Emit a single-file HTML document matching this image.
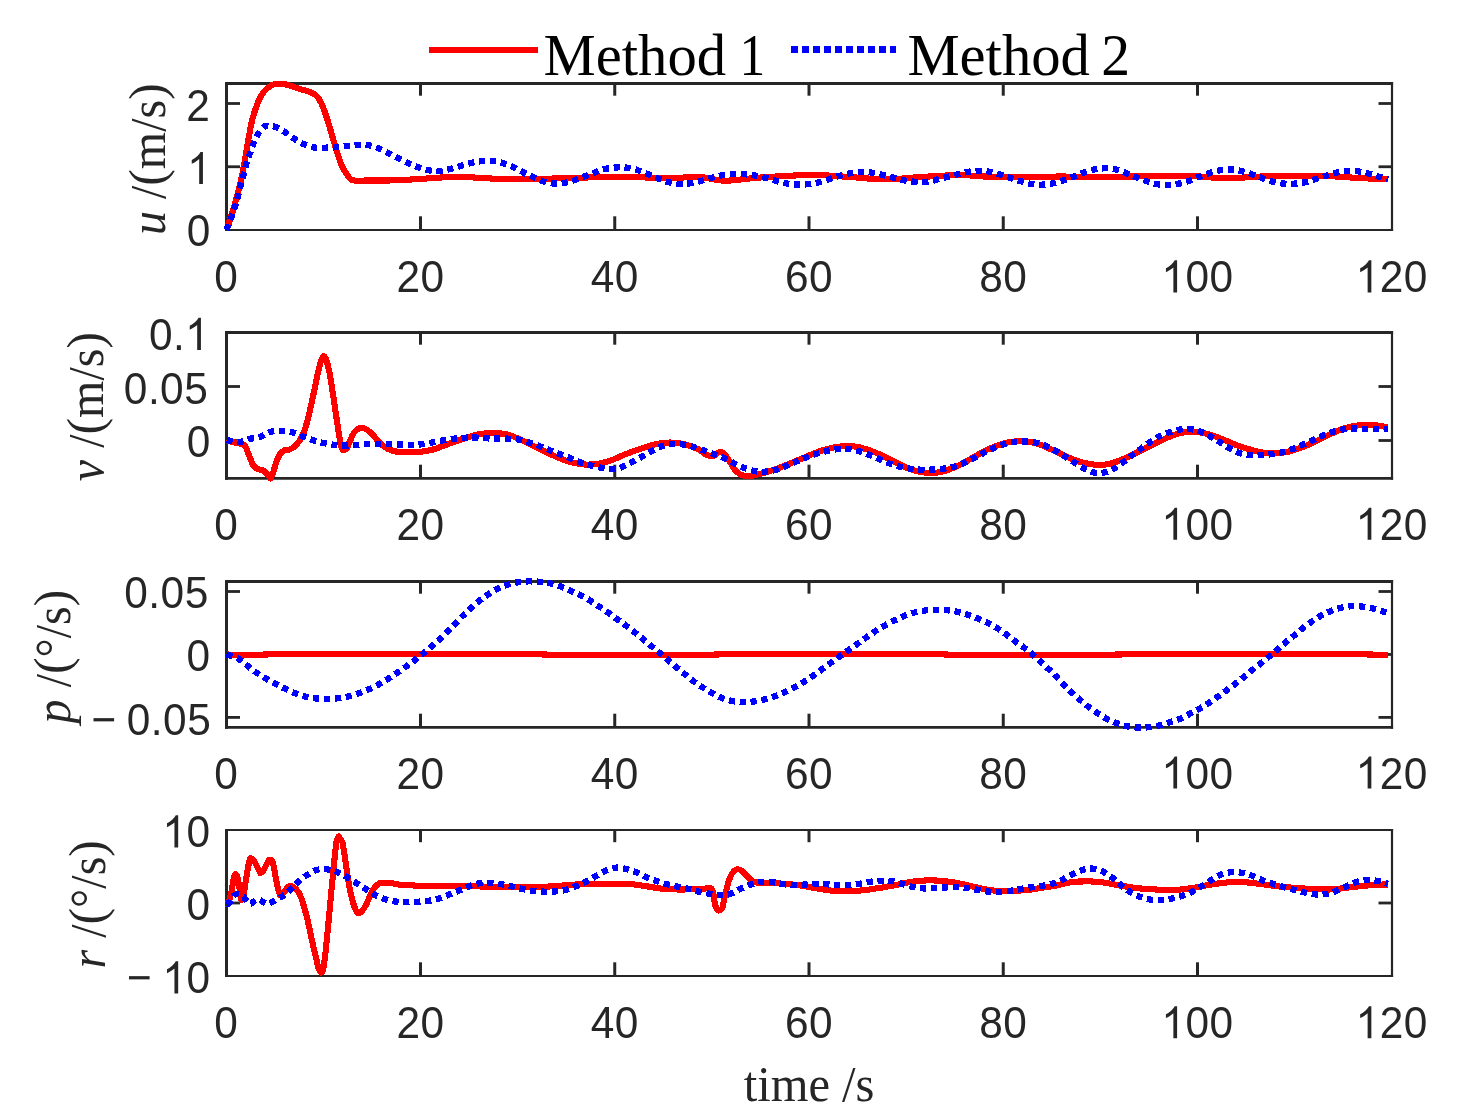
<!DOCTYPE html>
<html><head><meta charset="utf-8"><title>Figure</title>
<style>html,body{margin:0;padding:0;background:#fff;}body{width:1457px;height:1119px;overflow:hidden;}svg{display:block;will-change:transform;}text{font-family:"Liberation Sans",sans-serif;font-kerning:none;}.tk{font-family:"Liberation Sans",sans-serif;font-size:45.2px;fill:#262626;}.yl{font-family:"Liberation Serif",serif;font-size:50px;fill:#262626;}.xl{font-family:"Liberation Serif",serif;font-size:50px;fill:#262626;}.lg{font-family:"Liberation Serif",serif;font-size:60px;fill:#000;}.r{shape-rendering:crispEdges;fill:none;stroke:#ff0000;stroke-width:6.1;stroke-linejoin:round;stroke-linecap:butt;}.b{shape-rendering:crispEdges;fill:none;stroke:#0000ff;stroke-width:6.3;stroke-dasharray:6.2 4.7;stroke-linejoin:round;stroke-linecap:butt;}.ax{stroke:#262626;fill:none;}.one{fill:#262626;}</style></head><body>
<svg width="1457" height="1119" viewBox="0 0 1457 1119">
<rect x="0" y="0" width="1457" height="1119" fill="#ffffff"/>
<line x1="429" y1="50" x2="538.4" y2="50" stroke="#ff0000" stroke-width="6" shape-rendering="crispEdges"/>
<line x1="790.9" y1="49.5" x2="896.2" y2="49.5" stroke="#0000ff" stroke-width="7" stroke-dasharray="6.6 4.4" shape-rendering="crispEdges"/>
<text class="lg" transform="translate(543.6 75.4) scale(0.978 1)">Method</text>
<text class="lg" transform="translate(739.6 75.4) scale(0.857 1)">1</text>
<text class="lg" transform="translate(907.4 75.4) scale(0.978 1)">Method</text>
<text class="lg" transform="translate(1101.2 75.4) scale(0.961 1)">2</text>
<g class="ax">
<line x1="226.50" y1="82.00" x2="226.50" y2="231.00" stroke-width="3"/>
<line x1="1392.00" y1="82.00" x2="1392.00" y2="231.00" stroke-width="2.2"/>
<line x1="225.00" y1="83.50" x2="1393.10" y2="83.50" stroke-width="3"/>
<line x1="225.00" y1="230.00" x2="1393.10" y2="230.00" stroke-width="2"/>
<line x1="420.50" y1="230.00" x2="420.50" y2="216.30" stroke-width="3"/>
<line x1="420.50" y1="83.50" x2="420.50" y2="95.70" stroke-width="3"/>
<line x1="614.75" y1="230.00" x2="614.75" y2="216.30" stroke-width="3"/>
<line x1="614.75" y1="83.50" x2="614.75" y2="95.70" stroke-width="3"/>
<line x1="809.00" y1="230.00" x2="809.00" y2="216.30" stroke-width="3"/>
<line x1="809.00" y1="83.50" x2="809.00" y2="95.70" stroke-width="3"/>
<line x1="1003.25" y1="230.00" x2="1003.25" y2="216.30" stroke-width="3"/>
<line x1="1003.25" y1="83.50" x2="1003.25" y2="95.70" stroke-width="3"/>
<line x1="1197.50" y1="230.00" x2="1197.50" y2="216.30" stroke-width="3"/>
<line x1="1197.50" y1="83.50" x2="1197.50" y2="95.70" stroke-width="3"/>
<line x1="226.50" y1="166.75" x2="240.00" y2="166.75" stroke-width="2.8"/>
<line x1="1392.00" y1="166.75" x2="1378.50" y2="166.75" stroke-width="2.8"/>
<line x1="226.50" y1="103.50" x2="240.00" y2="103.50" stroke-width="2.8"/>
<line x1="1392.00" y1="103.50" x2="1378.50" y2="103.50" stroke-width="2.8"/>
</g>
<text class="tk" transform="translate(214.21 292.40) scale(0.938097 1)">0</text>
<text class="tk" transform="translate(396.38 292.40) scale(0.938097 1)">2</text>
<text class="tk" transform="translate(420.53 292.40) scale(0.938097 1)">0</text>
<text class="tk" transform="translate(590.63 292.40) scale(0.938097 1)">4</text>
<text class="tk" transform="translate(614.78 292.40) scale(0.938097 1)">0</text>
<text class="tk" transform="translate(784.88 292.40) scale(0.938097 1)">6</text>
<text class="tk" transform="translate(809.03 292.40) scale(0.938097 1)">0</text>
<text class="tk" transform="translate(979.13 292.40) scale(0.938097 1)">8</text>
<text class="tk" transform="translate(1003.28 292.40) scale(0.938097 1)">0</text>
<path d="M763 0H583V1147Q518 1085 412.5 1023Q307 961 223 930V1104Q374 1175 487 1276Q600 1377 647 1472H763Z" class="one" transform="translate(1161.31 292.40) scale(0.02070 -0.02178)"/>
<text class="tk" transform="translate(1185.46 292.40) scale(0.938097 1)">0</text>
<text class="tk" transform="translate(1209.61 292.40) scale(0.938097 1)">0</text>
<path d="M763 0H583V1147Q518 1085 412.5 1023Q307 961 223 930V1104Q374 1175 487 1276Q600 1377 647 1472H763Z" class="one" transform="translate(1355.56 292.40) scale(0.02070 -0.02178)"/>
<text class="tk" transform="translate(1379.71 292.40) scale(0.938097 1)">2</text>
<text class="tk" transform="translate(1403.86 292.40) scale(0.938097 1)">0</text>
<text class="tk" transform="translate(186.63 246.30) scale(0.938097 1)">0</text>
<path d="M763 0H583V1147Q518 1085 412.5 1023Q307 961 223 930V1104Q374 1175 487 1276Q600 1377 647 1472H763Z" class="one" transform="translate(187.13 183.95) scale(0.02070 -0.02178)"/>
<text class="tk" transform="translate(186.13 120.90) scale(0.938097 1)">2</text>
<path class="r" d="M226.50 230.00C227.87 225.80 232.10 213.92 234.70 204.80C237.30 195.68 239.88 185.87 242.10 175.30C244.32 164.73 246.28 150.75 248.00 141.40C249.72 132.05 250.68 125.85 252.40 119.20C254.12 112.55 256.33 106.17 258.30 101.50C260.27 96.83 261.98 93.90 264.20 91.20C266.42 88.50 269.13 86.57 271.60 85.30C274.07 84.03 276.53 83.72 279.00 83.60C281.47 83.48 283.45 83.87 286.40 84.60C289.35 85.33 293.02 86.85 296.70 88.00C300.38 89.15 305.55 90.47 308.50 91.50C311.45 92.53 312.68 93.02 314.40 94.20C316.12 95.38 317.33 96.40 318.80 98.60C320.27 100.80 321.72 103.72 323.20 107.40C324.68 111.08 326.22 116.02 327.70 120.70C329.18 125.38 330.63 130.58 332.10 135.50C333.57 140.42 335.03 145.53 336.50 150.20C337.97 154.87 339.42 159.82 340.90 163.50C342.38 167.18 343.92 169.85 345.40 172.30C346.88 174.75 348.33 176.83 349.80 178.20C351.27 179.57 351.25 180.12 354.20 180.50C357.15 180.88 362.83 180.50 367.50 180.50C372.17 180.50 377.28 180.53 382.20 180.50C387.12 180.47 390.37 180.58 397.00 180.30C403.63 180.02 412.33 179.38 422.00 178.80C431.67 178.22 445.83 176.98 455.00 176.80C464.17 176.62 467.83 177.27 477.00 177.70C486.17 178.13 499.00 179.22 510.00 179.40C521.00 179.58 532.00 179.05 543.00 178.80C554.00 178.55 565.00 178.23 576.00 177.90C587.00 177.57 598.00 176.88 609.00 176.80C620.00 176.72 631.00 177.22 642.00 177.40C653.00 177.58 665.33 177.98 675.00 177.90C684.67 177.82 691.72 176.43 700.00 176.90C708.28 177.37 714.40 180.62 724.70 180.70C735.00 180.78 747.38 178.35 761.80 177.40C776.22 176.45 796.78 175.08 811.20 175.00C825.62 174.92 835.95 176.17 848.30 176.90C860.65 177.63 872.95 179.40 885.30 179.40C897.65 179.40 910.03 177.63 922.40 176.90C934.77 176.17 949.20 175.07 959.50 175.00C969.80 174.93 973.92 176.10 984.20 176.50C994.48 176.90 1008.57 177.40 1021.20 177.40C1033.83 177.40 1050.70 176.58 1060.00 176.50C1069.30 176.42 1068.00 176.83 1077.00 176.90C1086.00 176.97 1101.67 177.05 1114.00 176.90C1126.33 176.75 1138.67 176.20 1151.00 176.00C1163.33 175.80 1175.67 175.33 1188.00 175.70C1200.33 176.07 1212.67 178.07 1225.00 178.20C1237.33 178.33 1249.58 176.92 1262.00 176.50C1274.42 176.08 1287.08 175.70 1299.50 175.70C1311.92 175.70 1326.25 176.08 1336.50 176.50C1346.75 176.92 1352.42 177.80 1361.00 178.20C1369.58 178.60 1383.50 178.78 1388.00 178.90"/>
<path class="b" d="M226.50 230.00C227.87 226.28 232.35 215.10 234.70 207.70C237.05 200.30 238.63 192.97 240.60 185.60C242.57 178.23 245.02 168.67 246.50 163.50C247.98 158.33 248.38 157.80 249.50 154.60C250.62 151.40 251.85 147.62 253.20 144.30C254.55 140.98 255.77 137.65 257.60 134.70C259.43 131.75 262.12 128.07 264.20 126.60C266.28 125.13 268.25 125.85 270.10 125.90C271.95 125.95 272.83 125.85 275.30 126.90C277.77 127.95 281.83 130.28 284.90 132.20C287.97 134.12 290.75 136.50 293.70 138.40C296.65 140.30 299.40 142.12 302.60 143.60C305.80 145.08 309.47 146.62 312.90 147.30C316.33 147.98 319.52 147.70 323.20 147.70C326.88 147.70 331.30 147.57 335.00 147.30C338.70 147.03 341.95 146.48 345.40 146.10C348.85 145.72 352.02 145.18 355.70 145.00C359.38 144.82 363.82 144.50 367.50 145.00C371.18 145.50 374.60 146.77 377.80 148.00C381.00 149.23 383.50 150.80 386.70 152.40C389.90 154.00 393.68 155.92 397.00 157.60C400.32 159.28 403.35 160.98 406.60 162.50C409.85 164.02 413.20 165.48 416.50 166.70C419.80 167.92 422.93 169.07 426.40 169.80C429.87 170.53 433.65 171.15 437.30 171.10C440.95 171.05 444.82 170.23 448.30 169.50C451.78 168.77 454.72 167.72 458.20 166.70C461.68 165.68 465.65 164.28 469.20 163.40C472.75 162.52 476.03 161.85 479.50 161.40C482.97 160.95 486.42 160.52 490.00 160.70C493.58 160.88 497.43 161.58 501.00 162.50C504.57 163.42 508.10 164.77 511.40 166.20C514.70 167.63 517.58 169.45 520.80 171.10C524.02 172.75 527.40 174.53 530.70 176.10C534.00 177.67 537.30 179.32 540.60 180.50C543.90 181.68 547.03 182.75 550.50 183.20C553.97 183.65 557.82 183.57 561.40 183.20C564.98 182.83 568.52 182.00 572.00 181.00C575.48 180.00 578.83 178.48 582.30 177.20C585.77 175.92 589.43 174.58 592.80 173.30C596.17 172.02 599.13 170.42 602.50 169.50C605.87 168.58 609.48 168.17 613.00 167.80C616.52 167.43 620.03 167.08 623.60 167.30C627.17 167.52 630.97 168.18 634.40 169.10C637.83 170.02 640.88 171.52 644.20 172.80C647.52 174.08 650.88 175.43 654.30 176.80C657.72 178.17 661.25 179.90 664.70 181.00C668.15 182.10 671.53 182.93 675.00 183.40C678.47 183.87 681.92 184.02 685.50 183.80C689.08 183.58 692.98 182.85 696.50 182.10C700.02 181.35 703.13 180.28 706.60 179.30C710.07 178.32 713.75 177.00 717.30 176.20C720.85 175.40 724.32 174.87 727.90 174.50C731.48 174.13 735.22 173.97 738.80 174.00C742.38 174.03 745.87 174.28 749.40 174.70C752.93 175.12 756.42 175.72 760.00 176.50C763.58 177.28 767.32 178.42 770.90 179.40C774.48 180.38 778.08 181.62 781.50 182.40C784.92 183.18 787.90 183.73 791.40 184.10C794.90 184.47 798.78 184.72 802.50 184.60C806.22 184.48 810.18 184.02 813.70 183.40C817.22 182.78 820.18 181.90 823.60 180.90C827.02 179.90 830.70 178.47 834.20 177.40C837.70 176.33 841.02 175.32 844.60 174.50C848.18 173.68 852.13 172.92 855.70 172.50C859.27 172.08 862.50 171.83 866.00 172.00C869.50 172.17 873.18 172.83 876.70 173.50C880.22 174.17 883.60 175.13 887.10 176.00C890.60 176.87 894.17 177.85 897.70 178.70C901.23 179.55 904.80 180.57 908.30 181.10C911.80 181.63 915.20 181.85 918.70 181.90C922.20 181.95 925.80 181.90 929.30 181.40C932.80 180.90 936.20 179.77 939.70 178.90C943.20 178.03 946.80 177.10 950.30 176.20C953.80 175.30 957.20 174.32 960.70 173.50C964.20 172.68 967.72 171.75 971.30 171.30C974.88 170.85 978.62 170.60 982.20 170.80C985.78 171.00 989.27 171.68 992.80 172.50C996.33 173.32 999.98 174.63 1003.40 175.70C1006.82 176.77 1009.92 177.83 1013.30 178.90C1016.68 179.97 1020.20 181.18 1023.70 182.10C1027.20 183.02 1030.72 184.00 1034.30 184.40C1037.88 184.80 1041.67 184.78 1045.20 184.50C1048.73 184.22 1052.03 183.55 1055.50 182.70C1058.97 181.85 1062.53 180.57 1066.00 179.40C1069.47 178.23 1072.88 177.02 1076.30 175.70C1079.72 174.38 1083.08 172.62 1086.50 171.50C1089.92 170.38 1093.35 169.53 1096.80 169.00C1100.25 168.47 1103.67 168.13 1107.20 168.30C1110.73 168.47 1114.45 169.05 1118.00 170.00C1121.55 170.95 1125.12 172.63 1128.50 174.00C1131.88 175.37 1134.93 176.88 1138.30 178.20C1141.67 179.52 1145.32 180.87 1148.70 181.90C1152.08 182.93 1155.10 183.90 1158.60 184.40C1162.10 184.90 1166.13 185.07 1169.70 184.90C1173.27 184.73 1176.50 184.18 1180.00 183.40C1183.50 182.62 1187.27 181.40 1190.70 180.20C1194.13 179.00 1197.22 177.48 1200.60 176.20C1203.98 174.92 1207.50 173.53 1211.00 172.50C1214.50 171.47 1218.07 170.50 1221.60 170.00C1225.13 169.50 1228.70 169.28 1232.20 169.50C1235.70 169.72 1239.13 170.43 1242.60 171.30C1246.07 172.17 1249.58 173.52 1253.00 174.70C1256.42 175.88 1259.68 177.20 1263.10 178.40C1266.52 179.60 1270.00 181.03 1273.50 181.90C1277.00 182.77 1280.52 183.32 1284.10 183.60C1287.68 183.88 1291.42 183.85 1295.00 183.60C1298.58 183.35 1302.05 182.88 1305.60 182.10C1309.15 181.32 1312.80 180.00 1316.30 178.90C1319.80 177.80 1323.23 176.53 1326.60 175.50C1329.97 174.47 1333.08 173.45 1336.50 172.70C1339.92 171.95 1343.52 171.23 1347.10 171.00C1350.68 170.77 1354.42 170.85 1358.00 171.30C1361.58 171.75 1365.10 172.80 1368.60 173.70C1372.10 174.60 1375.77 175.72 1379.00 176.70C1382.23 177.68 1386.50 179.12 1388.00 179.60"/>
<g class="ax">
<line x1="226.50" y1="331.00" x2="226.50" y2="479.80" stroke-width="3"/>
<line x1="1392.00" y1="331.00" x2="1392.00" y2="479.80" stroke-width="2.2"/>
<line x1="225.00" y1="332.50" x2="1393.10" y2="332.50" stroke-width="3"/>
<line x1="225.00" y1="478.40" x2="1393.10" y2="478.40" stroke-width="2.8"/>
<line x1="420.50" y1="478.40" x2="420.50" y2="464.70" stroke-width="3"/>
<line x1="420.50" y1="332.50" x2="420.50" y2="344.70" stroke-width="3"/>
<line x1="614.75" y1="478.40" x2="614.75" y2="464.70" stroke-width="3"/>
<line x1="614.75" y1="332.50" x2="614.75" y2="344.70" stroke-width="3"/>
<line x1="809.00" y1="478.40" x2="809.00" y2="464.70" stroke-width="3"/>
<line x1="809.00" y1="332.50" x2="809.00" y2="344.70" stroke-width="3"/>
<line x1="1003.25" y1="478.40" x2="1003.25" y2="464.70" stroke-width="3"/>
<line x1="1003.25" y1="332.50" x2="1003.25" y2="344.70" stroke-width="3"/>
<line x1="1197.50" y1="478.40" x2="1197.50" y2="464.70" stroke-width="3"/>
<line x1="1197.50" y1="332.50" x2="1197.50" y2="344.70" stroke-width="3"/>
<line x1="226.50" y1="440.50" x2="240.00" y2="440.50" stroke-width="2.8"/>
<line x1="1392.00" y1="440.50" x2="1378.50" y2="440.50" stroke-width="2.8"/>
<line x1="226.50" y1="386.50" x2="240.00" y2="386.50" stroke-width="2.8"/>
<line x1="1392.00" y1="386.50" x2="1378.50" y2="386.50" stroke-width="2.8"/>
</g>
<text class="tk" transform="translate(214.21 539.80) scale(0.938097 1)">0</text>
<text class="tk" transform="translate(396.38 539.80) scale(0.938097 1)">2</text>
<text class="tk" transform="translate(420.53 539.80) scale(0.938097 1)">0</text>
<text class="tk" transform="translate(590.63 539.80) scale(0.938097 1)">4</text>
<text class="tk" transform="translate(614.78 539.80) scale(0.938097 1)">0</text>
<text class="tk" transform="translate(784.88 539.80) scale(0.938097 1)">6</text>
<text class="tk" transform="translate(809.03 539.80) scale(0.938097 1)">0</text>
<text class="tk" transform="translate(979.13 539.80) scale(0.938097 1)">8</text>
<text class="tk" transform="translate(1003.28 539.80) scale(0.938097 1)">0</text>
<path d="M763 0H583V1147Q518 1085 412.5 1023Q307 961 223 930V1104Q374 1175 487 1276Q600 1377 647 1472H763Z" class="one" transform="translate(1161.31 539.80) scale(0.02070 -0.02178)"/>
<text class="tk" transform="translate(1185.46 539.80) scale(0.938097 1)">0</text>
<text class="tk" transform="translate(1209.61 539.80) scale(0.938097 1)">0</text>
<path d="M763 0H583V1147Q518 1085 412.5 1023Q307 961 223 930V1104Q374 1175 487 1276Q600 1377 647 1472H763Z" class="one" transform="translate(1355.56 539.80) scale(0.02070 -0.02178)"/>
<text class="tk" transform="translate(1379.71 539.80) scale(0.938097 1)">2</text>
<text class="tk" transform="translate(1403.86 539.80) scale(0.938097 1)">0</text>
<text class="tk" transform="translate(186.83 456.70) scale(0.938097 1)">0</text>
<text class="tk" transform="translate(123.87 403.90) scale(0.938097 1)">0</text>
<text class="tk" transform="translate(147.88 403.90) scale(0.938097 1)">.</text>
<text class="tk" transform="translate(160.08 403.90) scale(0.938097 1)">0</text>
<text class="tk" transform="translate(184.23 403.90) scale(0.938097 1)">5</text>
<text class="tk" transform="translate(148.92 349.90) scale(0.938097 1)">0</text>
<text class="tk" transform="translate(172.93 349.90) scale(0.938097 1)">.</text>
<path d="M763 0H583V1147Q518 1085 412.5 1023Q307 961 223 930V1104Q374 1175 487 1276Q600 1377 647 1472H763Z" class="one" transform="translate(185.13 349.90) scale(0.02070 -0.02178)"/>
<path class="r" d="M226.60 440.00C227.72 440.38 230.97 441.68 233.30 442.30C235.63 442.92 238.63 443.10 240.60 443.70C242.57 444.30 243.73 444.05 245.10 445.90C246.47 447.75 247.45 451.60 248.80 454.80C250.15 458.00 251.85 462.77 253.20 465.10C254.55 467.43 255.30 467.93 256.90 468.80C258.50 469.67 261.08 469.43 262.80 470.30C264.52 471.17 265.90 472.65 267.20 474.00C268.50 475.35 270.60 478.40 270.60 478.40C270.60 478.40 272.07 475.45 273.10 472.50C274.13 469.55 275.57 463.90 276.80 460.70C278.03 457.50 279.15 455.07 280.50 453.30C281.85 451.53 283.30 450.77 284.90 450.10C286.50 449.43 288.38 450.00 290.10 449.30C291.82 448.60 293.48 447.57 295.20 445.90C296.92 444.23 298.80 442.00 300.40 439.30C302.00 436.60 303.45 433.52 304.80 429.70C306.15 425.88 307.27 421.32 308.50 416.40C309.73 411.48 310.97 405.85 312.20 400.20C313.43 394.55 314.75 387.90 315.90 382.50C317.05 377.10 318.12 371.73 319.10 367.80C320.08 363.87 320.98 360.82 321.80 358.90C322.62 356.98 323.27 356.17 324.00 356.30C324.73 356.43 325.35 357.30 326.20 359.70C327.05 362.10 328.12 365.92 329.10 370.70C330.08 375.48 331.12 382.25 332.10 388.40C333.08 394.55 334.02 400.97 335.00 407.60C335.98 414.23 337.13 422.55 338.00 428.20C338.87 433.85 339.52 438.05 340.20 441.50C340.88 444.95 341.53 447.42 342.10 448.90C342.67 450.38 343.60 450.40 343.60 450.40C343.60 450.40 345.77 449.68 346.80 448.20C347.83 446.72 348.68 443.97 349.80 441.50C350.92 439.03 352.15 435.48 353.50 433.40C354.85 431.32 356.43 429.90 357.90 429.00C359.37 428.10 360.70 427.83 362.30 428.00C363.90 428.17 365.65 428.73 367.50 430.00C369.35 431.27 371.43 433.55 373.40 435.60C375.37 437.65 377.33 440.33 379.30 442.30C381.27 444.27 382.98 446.00 385.20 447.40C387.42 448.80 389.90 449.88 392.60 450.70C395.30 451.52 398.22 452.02 401.40 452.30C404.58 452.58 409.00 452.42 411.70 452.40C414.40 452.38 414.05 452.68 417.60 452.20C421.15 451.72 427.88 450.87 433.00 449.50C438.12 448.13 443.18 445.82 448.30 444.00C453.42 442.18 458.58 440.23 463.70 438.60C468.82 436.97 473.88 435.12 479.00 434.20C484.12 433.28 489.63 433.03 494.40 433.10C499.17 433.17 503.20 433.50 507.60 434.60C512.00 435.70 516.03 437.58 520.80 439.70C525.57 441.82 530.72 444.63 536.20 447.30C541.68 449.97 548.22 453.32 553.70 455.70C559.18 458.08 563.97 460.13 569.10 461.60C574.23 463.07 579.73 464.13 584.50 464.50C589.27 464.87 593.32 464.47 597.70 463.80C602.08 463.13 606.05 462.15 610.80 460.50C615.55 458.85 621.07 455.92 626.20 453.90C631.33 451.88 636.47 450.05 641.60 448.40C646.73 446.75 652.23 444.98 657.00 444.00C661.77 443.02 665.82 442.50 670.20 442.50C674.58 442.50 678.92 443.02 683.30 444.00C687.68 444.98 693.38 447.10 696.50 448.40C699.62 449.70 700.18 450.67 702.00 451.80C703.82 452.93 705.47 454.55 707.40 455.20C709.33 455.85 711.75 456.15 713.60 455.70C715.45 455.25 716.85 452.92 718.50 452.50C720.15 452.08 721.85 452.05 723.50 453.20C725.15 454.35 726.55 456.72 728.40 459.40C730.25 462.08 732.53 466.75 734.60 469.30C736.67 471.85 738.53 473.55 740.80 474.70C743.07 475.85 745.53 476.20 748.20 476.20C750.87 476.20 752.88 475.65 756.80 474.70C760.72 473.75 766.75 472.13 771.70 470.50C776.65 468.87 781.15 467.03 786.50 464.90C791.85 462.77 798.03 460.05 803.80 457.70C809.57 455.35 815.75 452.57 821.10 450.80C826.45 449.03 831.37 447.88 835.90 447.10C840.43 446.32 844.18 446.02 848.30 446.10C852.42 446.18 856.08 446.53 860.60 447.60C865.12 448.67 870.05 450.32 875.40 452.50C880.75 454.68 887.33 458.10 892.70 460.70C898.07 463.30 903.07 466.25 907.60 468.10C912.13 469.95 916.00 470.98 919.90 471.80C923.80 472.62 927.08 473.08 931.00 473.00C934.92 472.92 939.07 472.42 943.40 471.30C947.73 470.18 952.27 468.48 957.00 466.30C961.73 464.12 966.87 460.92 971.80 458.20C976.73 455.48 981.65 452.35 986.60 450.00C991.55 447.65 996.97 445.50 1001.50 444.10C1006.03 442.70 1009.68 442.05 1013.80 441.60C1017.92 441.15 1022.08 440.98 1026.20 441.40C1030.32 441.82 1034.13 442.67 1038.50 444.10C1042.87 445.53 1047.62 447.85 1052.40 450.00C1057.18 452.15 1062.27 454.93 1067.20 457.00C1072.13 459.07 1077.07 461.08 1082.00 462.40C1086.93 463.72 1092.27 464.65 1096.80 464.90C1101.33 465.15 1104.67 464.93 1109.20 463.90C1113.73 462.87 1119.07 460.77 1124.00 458.70C1128.93 456.63 1133.85 453.93 1138.80 451.50C1143.75 449.07 1148.75 446.48 1153.70 444.10C1158.65 441.72 1163.98 439.05 1168.50 437.20C1173.02 435.35 1176.68 433.92 1180.80 433.00C1184.92 432.08 1189.07 431.62 1193.20 431.70C1197.33 431.78 1201.07 432.38 1205.60 433.50C1210.13 434.62 1215.47 436.55 1220.40 438.40C1225.33 440.25 1230.27 442.75 1235.20 444.60C1240.13 446.45 1245.47 448.18 1250.00 449.50C1254.53 450.82 1258.28 451.88 1262.40 452.50C1266.52 453.12 1270.58 453.28 1274.70 453.20C1278.82 453.12 1282.97 452.82 1287.10 452.00C1291.23 451.18 1294.97 449.95 1299.50 448.30C1304.03 446.65 1309.37 444.37 1314.30 442.10C1319.23 439.83 1324.57 436.83 1329.10 434.70C1333.63 432.57 1337.38 430.73 1341.50 429.30C1345.62 427.87 1349.68 426.85 1353.80 426.10C1357.92 425.35 1362.08 424.88 1366.20 424.80C1370.32 424.72 1374.87 425.18 1378.50 425.60C1382.13 426.02 1386.42 427.02 1388.00 427.30"/>
<path class="b" d="M226.60 440.00C228.70 440.33 235.38 442.18 239.20 442.00C243.02 441.82 245.93 439.77 249.50 438.90C253.07 438.03 257.17 437.97 260.60 436.80C264.03 435.63 266.78 432.90 270.10 431.90C273.42 430.90 277.05 430.80 280.50 430.80C283.95 430.80 287.37 431.10 290.80 431.90C294.23 432.70 297.67 434.30 301.10 435.60C304.53 436.90 307.95 438.52 311.40 439.70C314.85 440.88 318.35 441.90 321.80 442.70C325.25 443.50 328.53 444.02 332.10 444.50C335.67 444.98 339.52 445.48 343.20 445.60C346.88 445.72 350.52 445.43 354.20 445.20C357.88 444.97 361.62 444.45 365.30 444.20C368.98 443.95 372.73 443.70 376.30 443.70C379.87 443.70 383.25 444.07 386.70 444.20C390.15 444.33 393.32 444.42 397.00 444.50C400.68 444.58 405.08 444.70 408.80 444.70C412.52 444.70 415.82 444.80 419.30 444.50C422.78 444.20 426.15 443.53 429.70 442.90C433.25 442.27 436.95 441.35 440.60 440.70C444.25 440.05 448.05 439.47 451.60 439.00C455.15 438.53 458.42 438.15 461.90 437.90C465.38 437.65 468.90 437.47 472.50 437.50C476.10 437.53 479.85 437.92 483.50 438.10C487.15 438.28 490.82 438.52 494.40 438.60C497.98 438.68 501.40 438.50 505.00 438.60C508.60 438.70 512.38 438.67 516.00 439.20C519.62 439.73 523.23 440.82 526.70 441.80C530.17 442.78 533.47 443.88 536.80 445.10C540.13 446.32 543.40 447.82 546.70 449.10C550.00 450.38 553.23 451.52 556.60 452.80C559.97 454.08 563.53 455.43 566.90 456.80C570.27 458.17 573.43 459.75 576.80 461.00C580.17 462.25 583.62 463.28 587.10 464.30C590.58 465.32 594.18 466.33 597.70 467.10C601.22 467.87 604.73 468.72 608.20 468.90C611.67 469.08 615.13 469.05 618.50 468.20C621.87 467.35 625.10 465.37 628.40 463.80C631.70 462.23 635.12 460.52 638.30 458.80C641.48 457.08 644.38 455.23 647.50 453.50C650.62 451.77 653.70 449.87 657.00 448.40C660.30 446.93 663.83 445.43 667.30 444.70C670.77 443.97 674.22 443.85 677.80 444.00C681.38 444.15 685.25 444.82 688.80 445.60C692.35 446.38 695.80 447.55 699.10 448.70C702.40 449.85 705.37 451.33 708.60 452.50C711.83 453.67 715.07 454.33 718.50 455.70C721.93 457.07 725.90 459.05 729.20 460.70C732.50 462.35 735.13 464.17 738.30 465.60C741.47 467.03 744.70 468.27 748.20 469.30C751.70 470.33 755.60 471.52 759.30 471.80C763.00 472.08 766.90 471.53 770.40 471.00C773.90 470.47 776.92 469.78 780.30 468.60C783.68 467.42 787.40 465.35 790.70 463.90C794.00 462.45 796.80 461.27 800.10 459.90C803.40 458.53 807.00 456.93 810.50 455.70C814.00 454.47 817.68 453.45 821.10 452.50C824.52 451.55 827.50 450.58 831.00 450.00C834.50 449.42 838.48 449.08 842.10 449.00C845.72 448.92 849.20 448.92 852.70 449.50C856.20 450.08 859.72 451.33 863.10 452.50C866.48 453.67 869.70 455.13 873.00 456.50C876.30 457.87 879.53 459.30 882.90 460.70C886.27 462.10 889.70 463.75 893.20 464.90C896.70 466.05 900.35 466.87 903.90 467.60C907.45 468.33 910.92 468.93 914.50 469.30C918.08 469.67 921.82 469.80 925.40 469.80C928.98 469.80 932.38 469.58 936.00 469.30C939.62 469.02 943.48 468.72 947.10 468.10C950.72 467.48 954.28 466.72 957.70 465.60C961.12 464.48 964.35 462.92 967.60 461.40C970.85 459.88 974.03 458.18 977.20 456.50C980.37 454.82 983.38 452.87 986.60 451.30C989.82 449.73 993.08 448.42 996.50 447.10C999.92 445.78 1003.60 444.32 1007.10 443.40C1010.60 442.48 1014.00 441.90 1017.50 441.60C1021.00 441.30 1024.60 441.30 1028.10 441.60C1031.60 441.90 1035.02 442.43 1038.50 443.40C1041.98 444.37 1045.67 445.92 1049.00 447.40C1052.33 448.88 1055.38 450.50 1058.50 452.30C1061.62 454.10 1064.68 456.27 1067.70 458.20C1070.72 460.13 1073.60 462.05 1076.60 463.90C1079.60 465.75 1082.42 467.78 1085.70 469.30C1088.98 470.82 1092.80 472.58 1096.30 473.00C1099.80 473.42 1103.40 472.75 1106.70 471.80C1110.00 470.85 1113.02 469.15 1116.10 467.30C1119.18 465.45 1122.23 462.92 1125.20 460.70C1128.17 458.48 1131.02 456.18 1133.90 454.00C1136.78 451.82 1139.53 449.78 1142.50 447.60C1145.47 445.42 1148.60 442.92 1151.70 440.90C1154.80 438.88 1157.88 437.03 1161.10 435.50C1164.32 433.97 1167.63 432.73 1171.00 431.70C1174.37 430.67 1177.80 429.70 1181.30 429.30C1184.80 428.90 1188.58 428.82 1192.00 429.30C1195.42 429.78 1198.52 430.88 1201.80 432.20C1205.08 433.52 1208.48 435.42 1211.70 437.20C1214.92 438.98 1218.00 440.97 1221.10 442.90C1224.20 444.83 1227.13 447.08 1230.30 448.80C1233.47 450.52 1236.68 452.13 1240.10 453.20C1243.52 454.27 1247.22 454.87 1250.80 455.20C1254.38 455.53 1258.02 455.40 1261.60 455.20C1265.18 455.00 1268.75 454.53 1272.30 454.00C1275.85 453.47 1279.40 452.87 1282.90 452.00C1286.40 451.13 1289.92 450.03 1293.30 448.80C1296.68 447.57 1299.92 446.05 1303.20 444.60C1306.48 443.15 1309.72 441.62 1313.00 440.10C1316.28 438.58 1319.52 436.90 1322.90 435.50C1326.28 434.10 1329.80 432.73 1333.30 431.70C1336.80 430.67 1340.35 429.83 1343.90 429.30C1347.45 428.77 1351.02 428.55 1354.60 428.50C1358.18 428.45 1361.82 428.92 1365.40 429.00C1368.98 429.08 1372.33 428.97 1376.10 429.00C1379.87 429.03 1386.02 429.17 1388.00 429.20"/>
<g class="ax">
<line x1="226.50" y1="580.00" x2="226.50" y2="728.80" stroke-width="3"/>
<line x1="1392.00" y1="580.00" x2="1392.00" y2="728.80" stroke-width="2.2"/>
<line x1="225.00" y1="581.50" x2="1393.10" y2="581.50" stroke-width="3"/>
<line x1="225.00" y1="727.40" x2="1393.10" y2="727.40" stroke-width="2.8"/>
<line x1="420.50" y1="727.40" x2="420.50" y2="713.70" stroke-width="3"/>
<line x1="420.50" y1="581.50" x2="420.50" y2="593.70" stroke-width="3"/>
<line x1="614.75" y1="727.40" x2="614.75" y2="713.70" stroke-width="3"/>
<line x1="614.75" y1="581.50" x2="614.75" y2="593.70" stroke-width="3"/>
<line x1="809.00" y1="727.40" x2="809.00" y2="713.70" stroke-width="3"/>
<line x1="809.00" y1="581.50" x2="809.00" y2="593.70" stroke-width="3"/>
<line x1="1003.25" y1="727.40" x2="1003.25" y2="713.70" stroke-width="3"/>
<line x1="1003.25" y1="581.50" x2="1003.25" y2="593.70" stroke-width="3"/>
<line x1="1197.50" y1="727.40" x2="1197.50" y2="713.70" stroke-width="3"/>
<line x1="1197.50" y1="581.50" x2="1197.50" y2="593.70" stroke-width="3"/>
<line x1="226.50" y1="717.40" x2="240.00" y2="717.40" stroke-width="2.8"/>
<line x1="1392.00" y1="717.40" x2="1378.50" y2="717.40" stroke-width="2.8"/>
<line x1="226.50" y1="654.45" x2="240.00" y2="654.45" stroke-width="2.8"/>
<line x1="1392.00" y1="654.45" x2="1378.50" y2="654.45" stroke-width="2.8"/>
<line x1="226.50" y1="591.50" x2="240.00" y2="591.50" stroke-width="2.8"/>
<line x1="1392.00" y1="591.50" x2="1378.50" y2="591.50" stroke-width="2.8"/>
</g>
<text class="tk" transform="translate(214.21 788.60) scale(0.938097 1)">0</text>
<text class="tk" transform="translate(396.38 788.60) scale(0.938097 1)">2</text>
<text class="tk" transform="translate(420.53 788.60) scale(0.938097 1)">0</text>
<text class="tk" transform="translate(590.63 788.60) scale(0.938097 1)">4</text>
<text class="tk" transform="translate(614.78 788.60) scale(0.938097 1)">0</text>
<text class="tk" transform="translate(784.88 788.60) scale(0.938097 1)">6</text>
<text class="tk" transform="translate(809.03 788.60) scale(0.938097 1)">0</text>
<text class="tk" transform="translate(979.13 788.60) scale(0.938097 1)">8</text>
<text class="tk" transform="translate(1003.28 788.60) scale(0.938097 1)">0</text>
<path d="M763 0H583V1147Q518 1085 412.5 1023Q307 961 223 930V1104Q374 1175 487 1276Q600 1377 647 1472H763Z" class="one" transform="translate(1161.31 788.60) scale(0.02070 -0.02178)"/>
<text class="tk" transform="translate(1185.46 788.60) scale(0.938097 1)">0</text>
<text class="tk" transform="translate(1209.61 788.60) scale(0.938097 1)">0</text>
<path d="M763 0H583V1147Q518 1085 412.5 1023Q307 961 223 930V1104Q374 1175 487 1276Q600 1377 647 1472H763Z" class="one" transform="translate(1355.56 788.60) scale(0.02070 -0.02178)"/>
<text class="tk" transform="translate(1379.71 788.60) scale(0.938097 1)">2</text>
<text class="tk" transform="translate(1403.86 788.60) scale(0.938097 1)">0</text>
<text class="tk" transform="translate(126.77 734.80) scale(0.938097 1)">0</text>
<text class="tk" transform="translate(150.78 734.80) scale(0.938097 1)">.</text>
<text class="tk" transform="translate(162.98 734.80) scale(0.938097 1)">0</text>
<text class="tk" transform="translate(187.13 734.80) scale(0.938097 1)">5</text>
<text class="tk" transform="translate(91.40 734.80) scale(0.938097 1)">−</text>
<text class="tk" transform="translate(186.53 671.25) scale(0.938097 1)">0</text>
<text class="tk" transform="translate(124.27 608.30) scale(0.938097 1)">0</text>
<text class="tk" transform="translate(148.28 608.30) scale(0.938097 1)">.</text>
<text class="tk" transform="translate(160.48 608.30) scale(0.938097 1)">0</text>
<text class="tk" transform="translate(184.63 608.30) scale(0.938097 1)">5</text>
<path class="r" d="M226.50 654.30C227.42 654.40 229.75 654.72 232.00 654.90C234.25 655.08 237.00 655.38 240.00 655.40C243.00 655.42 245.00 655.17 250.00 655.00C255.00 654.83 261.67 654.57 270.00 654.40C278.33 654.23 270.00 654.07 300.00 654.00C330.00 653.93 410.00 653.93 450.00 654.00C490.00 654.07 523.67 654.30 540.00 654.40C556.33 654.50 533.00 654.50 548.00 654.60C563.00 654.70 602.33 655.00 630.00 655.00C657.67 655.00 698.67 654.70 714.00 654.60C729.33 654.50 702.67 654.50 722.00 654.40C741.33 654.30 793.67 654.00 830.00 654.00C866.33 654.00 920.33 654.30 940.00 654.40C959.67 654.50 933.00 654.50 948.00 654.60C963.00 654.70 1002.00 655.00 1030.00 655.00C1058.00 655.00 1100.33 654.70 1116.00 654.60C1131.67 654.50 1103.33 654.50 1124.00 654.40C1144.67 654.30 1200.33 654.00 1240.00 654.00C1279.67 654.00 1340.67 654.30 1362.00 654.40C1383.33 654.50 1363.67 654.52 1368.00 654.60C1372.33 654.68 1384.67 654.85 1388.00 654.90"/>
<path class="b" d="M226.50 654.30C228.38 654.98 234.53 656.67 237.80 658.40C241.07 660.13 243.12 662.42 246.10 664.70C249.08 666.98 252.58 669.90 255.70 672.10C258.82 674.30 261.73 676.07 264.80 677.90C267.87 679.73 270.95 681.40 274.10 683.10C277.25 684.80 280.45 686.50 283.70 688.10C286.95 689.70 290.27 691.33 293.60 692.70C296.93 694.07 300.27 695.38 303.70 696.30C307.13 697.22 310.67 697.75 314.20 698.20C317.73 698.65 321.28 698.95 324.90 699.00C328.52 699.05 332.33 698.87 335.90 698.50C339.47 698.13 342.83 697.53 346.30 696.80C349.77 696.07 353.27 695.20 356.70 694.10C360.13 693.00 363.52 691.67 366.90 690.20C370.28 688.73 373.72 687.03 377.00 685.30C380.28 683.57 383.48 681.72 386.60 679.80C389.72 677.88 392.67 675.85 395.70 673.80C398.73 671.75 401.83 669.62 404.80 667.50C407.77 665.38 410.67 663.25 413.50 661.10C416.33 658.95 419.05 656.83 421.80 654.60C424.55 652.37 427.25 650.03 430.00 647.70C432.75 645.37 435.68 643.03 438.30 640.60C440.92 638.17 443.18 635.62 445.70 633.10C448.22 630.58 450.85 628.10 453.40 625.50C455.95 622.90 458.45 620.02 461.00 617.50C463.55 614.98 466.08 612.83 468.70 610.40C471.32 607.97 474.00 605.20 476.70 602.90C479.40 600.60 482.02 598.65 484.90 596.60C487.78 594.55 490.88 592.38 494.00 590.60C497.12 588.82 500.22 587.18 503.60 585.90C506.98 584.62 510.78 583.63 514.30 582.90C517.82 582.17 521.13 581.73 524.70 581.50C528.27 581.27 532.13 581.32 535.70 581.50C539.27 581.68 542.57 582.00 546.10 582.60C549.63 583.20 553.37 584.00 556.90 585.10C560.43 586.20 563.88 587.73 567.30 589.20C570.72 590.67 574.07 592.30 577.40 593.90C580.73 595.50 584.08 596.97 587.30 598.80C590.52 600.63 593.72 602.95 596.70 604.90C599.68 606.85 602.35 608.50 605.20 610.50C608.05 612.50 610.92 614.82 613.80 616.90C616.68 618.98 619.63 620.88 622.50 623.00C625.37 625.12 628.12 627.37 631.00 629.60C633.88 631.83 636.97 634.12 639.80 636.40C642.63 638.68 645.25 641.00 648.00 643.30C650.75 645.60 653.55 647.92 656.30 650.20C659.05 652.48 661.75 654.67 664.50 657.00C667.25 659.33 670.05 661.87 672.80 664.20C675.55 666.53 678.27 668.72 681.00 671.00C683.73 673.28 686.37 675.65 689.20 677.90C692.03 680.15 695.02 682.45 698.00 684.50C700.98 686.55 703.98 688.33 707.10 690.20C710.22 692.07 713.50 694.13 716.70 695.70C719.90 697.27 722.97 698.58 726.30 699.60C729.63 700.62 733.13 701.38 736.70 701.80C740.27 702.22 744.03 702.28 747.70 702.10C751.37 701.92 755.08 701.40 758.70 700.70C762.32 700.00 765.88 698.95 769.40 697.90C772.92 696.85 776.47 695.72 779.80 694.40C783.13 693.08 786.20 691.60 789.40 690.00C792.60 688.40 795.88 686.58 799.00 684.80C802.12 683.02 805.12 681.27 808.10 679.30C811.08 677.33 813.97 675.12 816.90 673.00C819.83 670.88 822.73 668.77 825.70 666.60C828.67 664.43 831.73 662.15 834.70 660.00C837.67 657.85 840.62 655.75 843.50 653.70C846.38 651.65 849.12 649.75 852.00 647.70C854.88 645.65 857.87 643.50 860.80 641.40C863.73 639.30 866.62 637.17 869.60 635.10C872.58 633.03 875.58 630.93 878.70 629.00C881.82 627.07 885.10 625.18 888.30 623.50C891.50 621.82 894.70 620.37 897.90 618.90C901.10 617.43 904.17 615.90 907.50 614.70C910.83 613.50 914.38 612.47 917.90 611.70C921.42 610.93 924.98 610.42 928.60 610.10C932.22 609.78 935.93 609.72 939.60 609.80C943.27 609.88 947.03 610.10 950.60 610.60C954.17 611.10 957.57 611.93 961.00 612.80C964.43 613.67 967.85 614.60 971.20 615.80C974.55 617.00 977.85 618.57 981.10 620.00C984.35 621.43 987.58 622.77 990.70 624.40C993.82 626.03 996.78 627.80 999.80 629.80C1002.82 631.80 1005.80 634.15 1008.80 636.40C1011.80 638.65 1014.83 641.10 1017.80 643.30C1020.77 645.50 1023.75 647.40 1026.60 649.60C1029.45 651.80 1032.23 654.12 1034.90 656.50C1037.57 658.88 1039.95 661.48 1042.60 663.90C1045.25 666.32 1048.15 668.48 1050.80 671.00C1053.45 673.52 1055.98 676.38 1058.50 679.00C1061.02 681.62 1063.38 684.18 1065.90 686.70C1068.42 689.22 1071.00 691.72 1073.60 694.10C1076.20 696.48 1078.80 698.72 1081.50 701.00C1084.20 703.28 1086.92 705.62 1089.80 707.80C1092.68 709.98 1095.70 712.13 1098.80 714.10C1101.90 716.07 1105.18 718.00 1108.40 719.60C1111.62 721.20 1114.75 722.55 1118.10 723.70C1121.45 724.85 1124.93 725.85 1128.50 726.50C1132.07 727.15 1135.85 727.52 1139.50 727.60C1143.15 727.68 1146.88 727.42 1150.40 727.00C1153.92 726.58 1157.20 725.97 1160.60 725.10C1164.00 724.23 1167.37 722.93 1170.80 721.80C1174.23 720.67 1177.87 719.72 1181.20 718.30C1184.53 716.88 1187.60 715.00 1190.80 713.30C1194.00 711.60 1197.28 709.88 1200.40 708.10C1203.52 706.32 1206.52 704.57 1209.50 702.60C1212.48 700.63 1215.38 698.40 1218.30 696.30C1221.22 694.20 1224.03 692.20 1227.00 690.00C1229.97 687.80 1233.12 685.40 1236.10 683.10C1239.08 680.80 1242.07 678.48 1244.90 676.20C1247.73 673.92 1250.32 671.63 1253.10 669.40C1255.88 667.17 1258.80 665.05 1261.60 662.80C1264.40 660.55 1267.15 658.18 1269.90 655.90C1272.65 653.62 1275.37 651.43 1278.10 649.10C1280.83 646.77 1283.55 644.23 1286.30 641.90C1289.05 639.57 1291.85 637.38 1294.60 635.10C1297.35 632.82 1299.97 630.45 1302.80 628.20C1305.63 625.95 1308.62 623.67 1311.60 621.60C1314.58 619.53 1317.58 617.53 1320.70 615.80C1323.82 614.07 1327.02 612.52 1330.30 611.20C1333.58 609.88 1336.88 608.73 1340.40 607.90C1343.92 607.07 1347.83 606.43 1351.40 606.20C1354.97 605.97 1358.23 606.13 1361.80 606.50C1365.37 606.87 1369.18 607.53 1372.80 608.40C1376.42 609.27 1380.97 610.85 1383.50 611.70C1386.03 612.55 1387.25 613.20 1388.00 613.50"/>
<g class="ax">
<line x1="226.50" y1="829.00" x2="226.50" y2="977.00" stroke-width="3"/>
<line x1="1392.00" y1="829.00" x2="1392.00" y2="977.00" stroke-width="2.2"/>
<line x1="225.00" y1="830.00" x2="1393.10" y2="830.00" stroke-width="2"/>
<line x1="225.00" y1="976.00" x2="1393.10" y2="976.00" stroke-width="2"/>
<line x1="420.50" y1="976.00" x2="420.50" y2="962.30" stroke-width="3"/>
<line x1="420.50" y1="830.00" x2="420.50" y2="842.20" stroke-width="3"/>
<line x1="614.75" y1="976.00" x2="614.75" y2="962.30" stroke-width="3"/>
<line x1="614.75" y1="830.00" x2="614.75" y2="842.20" stroke-width="3"/>
<line x1="809.00" y1="976.00" x2="809.00" y2="962.30" stroke-width="3"/>
<line x1="809.00" y1="830.00" x2="809.00" y2="842.20" stroke-width="3"/>
<line x1="1003.25" y1="976.00" x2="1003.25" y2="962.30" stroke-width="3"/>
<line x1="1003.25" y1="830.00" x2="1003.25" y2="842.20" stroke-width="3"/>
<line x1="1197.50" y1="976.00" x2="1197.50" y2="962.30" stroke-width="3"/>
<line x1="1197.50" y1="830.00" x2="1197.50" y2="842.20" stroke-width="3"/>
<line x1="226.50" y1="903.00" x2="240.00" y2="903.00" stroke-width="2.8"/>
<line x1="1392.00" y1="903.00" x2="1378.50" y2="903.00" stroke-width="2.8"/>
</g>
<text class="tk" transform="translate(214.21 1038.30) scale(0.938097 1)">0</text>
<text class="tk" transform="translate(396.38 1038.30) scale(0.938097 1)">2</text>
<text class="tk" transform="translate(420.53 1038.30) scale(0.938097 1)">0</text>
<text class="tk" transform="translate(590.63 1038.30) scale(0.938097 1)">4</text>
<text class="tk" transform="translate(614.78 1038.30) scale(0.938097 1)">0</text>
<text class="tk" transform="translate(784.88 1038.30) scale(0.938097 1)">6</text>
<text class="tk" transform="translate(809.03 1038.30) scale(0.938097 1)">0</text>
<text class="tk" transform="translate(979.13 1038.30) scale(0.938097 1)">8</text>
<text class="tk" transform="translate(1003.28 1038.30) scale(0.938097 1)">0</text>
<path d="M763 0H583V1147Q518 1085 412.5 1023Q307 961 223 930V1104Q374 1175 487 1276Q600 1377 647 1472H763Z" class="one" transform="translate(1161.31 1038.30) scale(0.02070 -0.02178)"/>
<text class="tk" transform="translate(1185.46 1038.30) scale(0.938097 1)">0</text>
<text class="tk" transform="translate(1209.61 1038.30) scale(0.938097 1)">0</text>
<path d="M763 0H583V1147Q518 1085 412.5 1023Q307 961 223 930V1104Q374 1175 487 1276Q600 1377 647 1472H763Z" class="one" transform="translate(1355.56 1038.30) scale(0.02070 -0.02178)"/>
<text class="tk" transform="translate(1379.71 1038.30) scale(0.938097 1)">2</text>
<text class="tk" transform="translate(1403.86 1038.30) scale(0.938097 1)">0</text>
<path d="M763 0H583V1147Q518 1085 412.5 1023Q307 961 223 930V1104Q374 1175 487 1276Q600 1377 647 1472H763Z" class="one" transform="translate(162.38 993.40) scale(0.02070 -0.02178)"/>
<text class="tk" transform="translate(186.53 993.40) scale(0.938097 1)">0</text>
<text class="tk" transform="translate(126.90 993.40) scale(0.938097 1)">−</text>
<text class="tk" transform="translate(186.53 920.40) scale(0.938097 1)">0</text>
<path d="M763 0H583V1147Q518 1085 412.5 1023Q307 961 223 930V1104Q374 1175 487 1276Q600 1377 647 1472H763Z" class="one" transform="translate(162.38 847.40) scale(0.02070 -0.02178)"/>
<text class="tk" transform="translate(186.53 847.40) scale(0.938097 1)">0</text>
<path class="r" d="M226.50 903.50C226.75 903.50 227.20 905.25 228.00 903.50C228.80 901.75 230.35 897.18 231.30 893.00C232.25 888.82 232.90 881.53 233.70 878.40C234.50 875.27 235.37 873.93 236.10 874.20C236.83 874.47 237.50 877.38 238.10 880.00C238.70 882.62 239.18 886.52 239.70 889.90C240.22 893.28 241.20 900.30 241.20 900.30C241.20 900.30 242.55 899.38 243.30 896.30C244.05 893.22 244.88 886.77 245.70 881.80C246.52 876.83 247.45 870.45 248.20 866.50C248.95 862.55 250.20 858.10 250.20 858.10C250.20 858.10 252.00 858.17 253.00 859.30C254.00 860.43 255.00 862.62 256.20 864.90C257.40 867.18 260.20 873.00 260.20 873.00C260.20 873.00 262.32 872.08 263.40 870.60C264.48 869.12 265.75 865.92 266.70 864.10C267.65 862.28 269.10 859.70 269.10 859.70C269.10 859.70 272.00 860.10 272.00 860.10C272.00 860.10 273.25 864.22 273.90 867.30C274.55 870.38 275.23 875.10 275.90 878.60C276.57 882.10 277.17 885.48 277.90 888.30C278.63 891.12 280.30 895.50 280.30 895.50C280.30 895.50 282.42 894.30 283.50 893.10C284.58 891.90 285.72 889.52 286.80 888.30C287.88 887.08 288.80 885.93 290.00 885.80C291.20 885.67 292.67 886.55 294.00 887.50C295.33 888.45 296.80 889.77 298.00 891.50C299.20 893.23 300.12 895.08 301.20 897.90C302.28 900.72 303.42 904.65 304.50 908.40C305.58 912.15 306.55 915.47 307.70 920.40C308.85 925.33 310.03 931.87 311.40 938.00C312.77 944.13 314.67 952.03 315.90 957.20C317.13 962.37 317.95 966.42 318.80 969.00C319.65 971.58 321.00 972.70 321.00 972.70C321.00 972.70 322.45 972.33 323.20 969.00C323.95 965.67 324.63 960.33 325.50 952.70C326.37 945.07 327.42 933.52 328.40 923.20C329.38 912.88 330.42 901.12 331.40 890.80C332.38 880.48 333.45 869.42 334.30 861.30C335.15 853.18 335.77 846.23 336.50 842.10C337.23 837.97 338.70 836.50 338.70 836.50C338.70 836.50 342.40 842.10 342.40 842.10C342.40 842.10 343.73 849.75 344.60 855.40C345.47 861.05 346.62 869.85 347.60 876.00C348.58 882.15 349.52 887.62 350.50 892.30C351.48 896.98 352.52 900.92 353.50 904.10C354.48 907.28 355.55 909.88 356.40 911.40C357.25 912.92 357.62 913.32 358.60 913.20C359.58 913.08 361.07 912.10 362.30 910.70C363.53 909.30 364.65 907.38 366.00 904.80C367.35 902.22 368.92 898.15 370.40 895.20C371.88 892.25 373.42 889.07 374.90 887.10C376.38 885.13 377.58 884.13 379.30 883.40C381.02 882.67 382.98 882.70 385.20 882.70C387.42 882.70 389.90 883.03 392.60 883.40C395.30 883.77 398.22 884.57 401.40 884.90C404.58 885.23 406.43 885.18 411.70 885.40C416.97 885.62 423.95 886.07 433.00 886.20C442.05 886.33 455.00 886.08 466.00 886.20C477.00 886.32 488.00 886.72 499.00 886.90C510.00 887.08 522.88 887.42 532.00 887.30C541.12 887.18 546.42 886.67 553.70 886.20C560.98 885.73 568.37 884.93 575.70 884.50C583.03 884.07 588.92 883.68 597.70 883.60C606.48 883.52 620.35 883.57 628.40 884.00C636.45 884.43 640.13 885.38 646.00 886.20C651.87 887.02 657.75 888.35 663.60 888.90C669.45 889.45 675.62 889.47 681.10 889.50C686.58 889.53 692.10 889.28 696.50 889.10C700.90 888.92 705.00 888.48 707.50 888.40C710.00 888.32 710.55 887.80 711.50 888.60C712.45 889.40 712.57 890.37 713.20 893.20C713.83 896.03 714.42 902.72 715.30 905.60C716.18 908.48 718.50 910.50 718.50 910.50C718.50 910.50 721.17 910.37 722.20 908.10C723.23 905.83 723.67 901.23 724.70 896.90C725.73 892.57 727.17 886.00 728.40 882.10C729.63 878.20 730.65 875.63 732.10 873.50C733.55 871.37 735.45 869.72 737.10 869.30C738.75 868.88 740.15 869.68 742.00 871.00C743.85 872.32 746.13 875.35 748.20 877.20C750.27 879.05 751.73 881.20 754.40 882.10C757.07 883.00 760.08 882.38 764.20 882.60C768.32 882.82 773.33 882.95 779.10 883.40C784.87 883.85 792.63 884.48 798.80 885.30C804.97 886.12 810.33 887.38 816.10 888.30C821.87 889.22 828.03 890.30 833.40 890.80C838.77 891.30 843.35 891.38 848.30 891.30C853.25 891.22 857.75 890.88 863.10 890.30C868.45 889.72 874.63 888.75 880.40 887.80C886.17 886.85 892.35 885.63 897.70 884.60C903.05 883.57 907.57 882.30 912.50 881.60C917.43 880.90 922.35 880.52 927.30 880.40C932.25 880.28 937.25 880.48 942.20 880.90C947.15 881.32 952.07 882.00 957.00 882.90C961.93 883.80 966.87 885.20 971.80 886.30C976.73 887.40 981.65 888.67 986.60 889.50C991.55 890.33 996.55 891.08 1001.50 891.30C1006.45 891.52 1011.37 891.10 1016.30 890.80C1021.23 890.50 1026.17 890.12 1031.10 889.50C1036.03 888.88 1041.95 887.72 1045.90 887.10C1049.85 886.48 1050.43 886.63 1054.80 885.80C1059.17 884.97 1066.33 882.83 1072.10 882.10C1077.87 881.37 1084.05 881.32 1089.40 881.40C1094.75 881.48 1098.85 881.87 1104.20 882.60C1109.55 883.33 1115.73 884.85 1121.50 885.80C1127.27 886.75 1133.03 887.68 1138.80 888.30C1144.57 888.92 1150.33 889.22 1156.10 889.50C1161.87 889.78 1167.63 890.20 1173.40 890.00C1179.17 889.80 1184.93 889.12 1190.70 888.30C1196.47 887.48 1202.23 886.05 1208.00 885.10C1213.77 884.15 1219.53 883.10 1225.30 882.60C1231.07 882.10 1236.83 881.88 1242.60 882.10C1248.37 882.32 1254.13 883.20 1259.90 883.90C1265.67 884.60 1271.43 885.65 1277.20 886.30C1282.97 886.95 1288.73 887.35 1294.50 887.80C1300.27 888.25 1306.03 888.72 1311.80 889.00C1317.57 889.28 1323.33 889.70 1329.10 889.50C1334.87 889.30 1340.63 888.42 1346.40 887.80C1352.17 887.18 1357.93 886.33 1363.70 885.80C1369.47 885.27 1376.95 884.80 1381.00 884.60C1385.05 884.40 1386.83 884.60 1388.00 884.60"/>
<path class="b" d="M226.50 903.30C226.95 903.27 227.80 904.53 229.20 903.10C230.60 901.67 232.62 895.83 234.90 894.70C237.18 893.57 240.48 894.77 242.90 896.30C245.32 897.83 246.92 903.37 249.40 903.90C251.88 904.43 254.78 899.50 257.80 899.50C260.82 899.50 264.35 903.97 267.50 903.90C270.65 903.83 273.62 900.77 276.70 899.10C279.78 897.43 283.18 895.97 286.00 893.90C288.82 891.83 291.00 889.18 293.60 886.70C296.20 884.22 298.75 881.32 301.60 879.00C304.45 876.68 307.58 874.45 310.70 872.80C313.82 871.15 316.85 869.55 320.30 869.10C323.75 868.65 327.97 869.32 331.40 870.10C334.83 870.88 337.72 872.25 340.90 873.80C344.08 875.35 347.30 877.48 350.50 879.40C353.70 881.32 357.02 883.33 360.10 885.30C363.18 887.27 366.05 889.35 369.00 891.20C371.95 893.05 374.62 894.92 377.80 896.40C380.98 897.88 384.65 899.18 388.10 900.10C391.55 901.02 394.98 901.57 398.50 901.90C402.02 902.23 405.58 902.15 409.20 902.10C412.82 902.05 416.62 901.87 420.20 901.60C423.78 901.33 427.18 901.15 430.70 900.50C434.22 899.85 437.82 898.87 441.30 897.70C444.78 896.53 448.17 894.87 451.60 893.50C455.03 892.13 458.50 890.90 461.90 889.50C465.30 888.10 468.67 886.20 472.00 885.10C475.33 884.00 478.45 883.27 481.90 882.90C485.35 882.53 489.15 882.63 492.70 882.90C496.25 883.17 499.68 883.83 503.20 884.50C506.72 885.17 510.25 886.07 513.80 886.90C517.35 887.73 520.95 888.80 524.50 889.50C528.05 890.20 531.58 890.73 535.10 891.10C538.62 891.47 542.02 891.67 545.60 891.70C549.18 891.73 552.97 891.67 556.60 891.30C560.23 890.93 563.92 890.45 567.40 889.50C570.88 888.55 574.22 886.98 577.50 885.60C580.78 884.22 584.00 882.82 587.10 881.20C590.20 879.58 592.95 877.70 596.10 875.90C599.25 874.10 602.63 871.78 606.00 870.40C609.37 869.02 612.82 867.82 616.30 867.60C619.78 867.38 623.42 868.27 626.90 869.10C630.38 869.93 633.83 871.20 637.20 872.60C640.57 874.00 643.73 876.03 647.10 877.50C650.47 878.97 654.00 880.23 657.40 881.40C660.80 882.57 664.02 883.62 667.50 884.50C670.98 885.38 674.75 885.97 678.30 886.70C681.85 887.43 685.25 888.05 688.80 888.90C692.35 889.75 696.07 890.98 699.60 891.80C703.13 892.62 706.43 893.23 710.00 893.80C713.57 894.37 717.52 895.22 721.00 895.20C724.48 895.18 727.60 894.77 730.90 893.70C734.20 892.63 737.50 890.32 740.80 888.80C744.10 887.28 747.42 885.72 750.70 884.60C753.98 883.48 757.00 882.52 760.50 882.10C764.00 881.68 768.07 881.80 771.70 882.10C775.33 882.40 778.80 883.40 782.30 883.90C785.80 884.40 789.12 884.98 792.70 885.10C796.28 885.22 800.18 884.80 803.80 884.60C807.42 884.40 810.78 883.98 814.40 883.90C818.02 883.82 821.92 883.90 825.50 884.10C829.08 884.30 832.32 884.90 835.90 885.10C839.48 885.30 843.38 885.47 847.00 885.30C850.62 885.13 854.02 884.63 857.60 884.10C861.18 883.57 864.92 882.63 868.50 882.10C872.08 881.57 875.47 881.10 879.10 880.90C882.73 880.70 886.72 880.48 890.30 880.90C893.88 881.32 897.10 882.45 900.60 883.40C904.10 884.35 907.80 885.78 911.30 886.60C914.80 887.42 918.10 888.02 921.60 888.30C925.10 888.58 928.67 888.42 932.30 888.30C935.93 888.18 939.78 887.80 943.40 887.60C947.02 887.40 950.42 887.07 954.00 887.10C957.58 887.13 961.32 887.40 964.90 887.80C968.48 888.20 971.97 888.92 975.50 889.50C979.03 890.08 982.60 890.88 986.10 891.30C989.60 891.72 993.00 892.00 996.50 892.00C1000.00 892.00 1003.52 891.72 1007.10 891.30C1010.68 890.88 1014.42 890.12 1018.00 889.50C1021.58 888.88 1025.02 888.15 1028.60 887.60C1032.18 887.05 1035.88 886.75 1039.50 886.20C1043.12 885.65 1046.87 885.18 1050.30 884.30C1053.73 883.42 1056.87 882.37 1060.10 880.90C1063.33 879.43 1066.47 877.15 1069.70 875.50C1072.93 873.85 1076.08 872.17 1079.50 871.00C1082.92 869.83 1086.70 868.58 1090.20 868.50C1093.70 868.42 1097.22 869.27 1100.50 870.50C1103.78 871.73 1106.93 873.83 1109.90 875.90C1112.87 877.97 1115.53 880.63 1118.30 882.90C1121.07 885.17 1123.62 887.48 1126.50 889.50C1129.38 891.52 1132.38 893.47 1135.60 895.00C1138.82 896.53 1142.38 897.83 1145.80 898.70C1149.22 899.57 1152.52 900.08 1156.10 900.20C1159.68 900.32 1163.58 899.95 1167.30 899.40C1171.02 898.85 1174.90 897.85 1178.40 896.90C1181.90 895.95 1185.02 895.13 1188.30 893.70C1191.58 892.27 1194.90 890.15 1198.10 888.30C1201.30 886.45 1204.40 884.53 1207.50 882.60C1210.60 880.67 1213.60 878.30 1216.70 876.70C1219.80 875.10 1222.73 873.75 1226.10 873.00C1229.47 872.25 1233.32 872.00 1236.90 872.20C1240.48 872.40 1244.18 873.25 1247.60 874.20C1251.02 875.15 1254.12 876.58 1257.40 877.90C1260.68 879.22 1263.92 880.87 1267.30 882.10C1270.68 883.33 1274.20 884.27 1277.70 885.30C1281.20 886.33 1284.80 887.38 1288.30 888.30C1291.80 889.22 1295.20 889.90 1298.70 890.80C1302.20 891.70 1305.75 893.08 1309.30 893.70C1312.85 894.32 1316.50 894.58 1320.00 894.50C1323.50 894.42 1326.85 894.12 1330.30 893.20C1333.75 892.28 1337.28 890.52 1340.70 889.00C1344.12 887.48 1347.47 885.45 1350.80 884.10C1354.13 882.75 1357.32 881.57 1360.70 880.90C1364.08 880.23 1367.52 879.90 1371.10 880.10C1374.68 880.30 1379.38 881.47 1382.20 882.10C1385.02 882.73 1387.03 883.60 1388.00 883.90"/>
<text class="yl" text-anchor="middle" transform="translate(164.50 159.20) rotate(-90) scale(0.961 1)"><tspan font-style="italic">u</tspan> /<tspan font-size="51.5px" dy="-0.8">(</tspan><tspan dy="0.8">m/s</tspan><tspan font-size="51.5px" dy="-0.8">)</tspan></text>
<text class="yl" text-anchor="middle" transform="translate(102.50 406.60) rotate(-90) scale(0.961 1)"><tspan font-style="italic">v</tspan> /<tspan font-size="51.5px" dy="-0.8">(</tspan><tspan dy="0.8">m/s</tspan><tspan font-size="51.5px" dy="-0.8">)</tspan></text>
<text class="yl" text-anchor="middle" transform="translate(70.00 656.60) rotate(-90) scale(0.961 1)"><tspan font-style="italic">p</tspan> /<tspan font-size="51.5px" dy="-0.8">(</tspan><tspan dy="0.8">°/s</tspan><tspan font-size="51.5px" dy="-0.8">)</tspan></text>
<text class="yl" text-anchor="middle" transform="translate(105.00 904.30) rotate(-90) scale(0.961 1)"><tspan font-style="italic">r</tspan> /<tspan font-size="51.5px" dy="-0.8">(</tspan><tspan dy="0.8">°/s</tspan><tspan font-size="51.5px" dy="-0.8">)</tspan></text>
<text class="xl" text-anchor="middle" transform="translate(809.1 1100.5) scale(0.971 1.03)">time /s</text>
</svg></body></html>
